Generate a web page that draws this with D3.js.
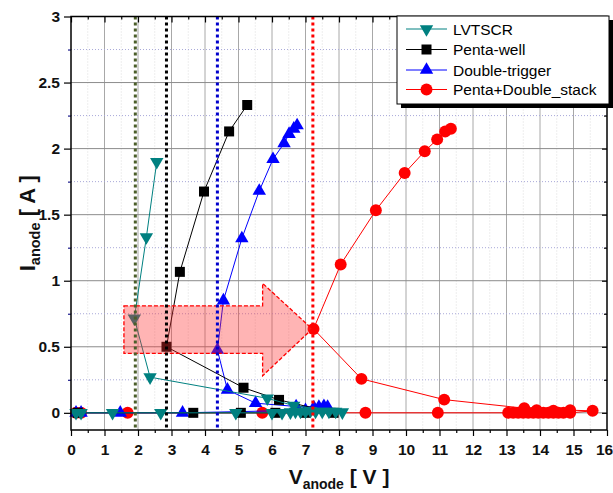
<!DOCTYPE html>
<html lang="en">
<head>
<meta charset="UTF-8">
<script src="https://cdn.jsdelivr.net/npm/d3@7"></script>
<style>
  body { margin: 0; background: #fff; }
  text { font-family: "Liberation Sans", Arial, sans-serif; }
</style>
</head>
<body>
<script>
// TLP data: anode voltage [V] and anode current [A]
var lvtscrV = [0.15, 0.3, 1.24, 2.68, 4.92, 6.0, 6.3, 6.55, 6.7, 6.85, 7.0, 7.15, 7.3, 7.5, 7.7, 7.9, 8.1, 6.65, 5.86, 2.36, 1.89, 2.25, 2.56];
var lvtscrI = [0, 0, 0, 0, 0, 0, 0, 0.005, 0.01, 0.01, 0.01, 0.015, 0.01, 0.01, 0.01, 0.01, 0.005, 0.055, 0.11, 0.27, 0.715, 1.33, 1.90];

var pentaV = [0.2, 3.65, 5.07, 6.1, 7.0, 7.84, 6.21, 5.15, 2.85, 3.25, 3.97, 4.72, 5.26];
var pentaI = [0, 0, 0, 0, 0, 0, 0.098, 0.19, 0.50, 1.067, 1.675, 2.13, 2.33];

var doubleV = [0.15, 0.3, 1.47, 3.33, 7.0, 7.25, 7.4, 7.55, 7.66, 6.72, 5.51, 4.67, 4.37, 4.55, 5.10, 5.62, 6.03, 6.36, 6.51, 6.65, 6.75];
var doubleI = [0, 0, 0, 0, 0.02, 0.04, 0.045, 0.05, 0.045, 0.048, 0.073, 0.174, 0.476, 0.85, 1.32, 1.68, 1.92, 2.04, 2.11, 2.15, 2.175];

var stackV = [0.15, 0.3, 1.69, 5.71, 8.79, 10.95, 13.05, 13.2, 13.35, 13.5, 13.65, 13.8, 13.95, 14.1, 14.25, 14.4, 14.55, 14.7, 14.9, 15.57, 14.9, 14.4, 13.9, 13.53, 11.14, 8.67, 7.24, 8.05, 9.10, 9.96, 10.56, 10.93, 11.17, 11.34];
var stackI = [0, 0, 0, 0, 0, 0, 0, 0, 0, 0, 0, 0, 0, 0, 0, 0, 0, 0, 0, 0.015, 0.02, 0.015, 0.02, 0.035, 0.10, 0.257, 0.635, 1.123, 1.533, 1.815, 1.98, 2.07, 2.13, 2.15];

var seriesNames = ["LVTSCR", "Penta-well", "Double-trigger", "Penta+Double_stack"];
var seriesColors = ["#008080", "#000000", "#0000ff", "#ff0000"];

// holding-voltage markers
var markerV = [1.92, 2.85, 4.37, 7.22];
var markerColors = ["#4b5e2a", "#000000", "#0000cc", "#ff0000"];

// annotation arrow (data coords)
var arrowV = [1.58, 5.72, 5.72, 7.2, 5.72, 5.72, 1.58];
var arrowI = [0.81, 0.81, 0.98, 0.635, 0.28, 0.45, 0.45];

var xTicks = d3.range(0, 17, 1);
var yTicks = [0, 0.5, 1, 1.5, 2, 2.5, 3];

var w = 613, h = 493;
var padL = 71, padR = 607, padT = 16.5, padB = 430;

var svg = d3.select("body").append("svg")
    .attr("width", w)
    .attr("height", h);

var xScale = d3.scaleLinear().domain([0, 16]).range([padL, padR]);
var yScale = d3.scaleLinear().domain([-0.13, 3]).range([padB, padT]);

// grid
var grid = svg.append("g");
grid.selectAll(".gx").data(d3.range(1, 16, 1)).enter().append("line")
    .attr("x1", function (d) { return xScale(d); })
    .attr("x2", function (d) { return xScale(d); })
    .attr("y1", padT).attr("y2", padB)
    .attr("stroke", "#a8a8a8").attr("stroke-width", 1);
grid.selectAll(".gxm").data(d3.range(0.5, 16, 1)).enter().append("line")
    .attr("x1", function (d) { return xScale(d); })
    .attr("x2", function (d) { return xScale(d); })
    .attr("y1", padT).attr("y2", padB)
    .attr("stroke", "#dcdcdc").attr("stroke-width", 1).attr("stroke-dasharray", "1,2");
grid.selectAll(".gy").data([0, 0.5, 1, 1.5, 2, 2.5]).enter().append("line")
    .attr("x1", padL).attr("x2", padR)
    .attr("y1", function (d) { return yScale(d); })
    .attr("y2", function (d) { return yScale(d); })
    .attr("stroke", "#8c8c8c").attr("stroke-width", 1);
grid.selectAll(".gym").data([0.25, 0.75, 1.25, 1.75, 2.25, 2.75]).enter().append("line")
    .attr("x1", padL).attr("x2", padR)
    .attr("y1", function (d) { return yScale(d); })
    .attr("y2", function (d) { return yScale(d); })
    .attr("stroke", "#a9a9d9").attr("stroke-width", 1).attr("stroke-dasharray", "1,2");

// series
var allV = [lvtscrV, pentaV, doubleV, stackV];
var allI = [lvtscrI, pentaI, doubleI, stackI];
var shapes = [d3.symbolTriangle, d3.symbolSquare, d3.symbolTriangle, d3.symbolCircle];
var sizes = [78, 100, 78, 112];
var rotations = [180, 0, 0, 0];

var line = d3.line()
    .x(function (d) { return xScale(d[0]); })
    .y(function (d) { return yScale(d[1]); });

var plot = svg.append("g");
[3, 2, 1, 0].forEach(function (k) {
    var pts = allV[k].map(function (v, i) { return [v, allI[k][i]]; });
    plot.append("path")
        .datum(pts)
        .attr("d", line)
        .attr("fill", "none")
        .attr("stroke", seriesColors[k])
        .attr("stroke-width", 1);
    plot.selectAll(".m" + k).data(pts).enter().append("path")
        .attr("d", d3.symbol().type(shapes[k]).size(sizes[k]))
        .attr("transform", function (d) {
            return "translate(" + xScale(d[0]) + "," + yScale(d[1]) + ") rotate(" + rotations[k] + ")";
        })
        .attr("fill", seriesColors[k]);
});

// arrow annotation
var arrowPts = arrowV.map(function (v, i) { return [xScale(v), yScale(arrowI[i])]; });
svg.append("path")
    .attr("d", "M" + arrowPts.join("L") + "Z")
    .attr("fill", "#ff3030")
    .attr("fill-opacity", 0.36)
    .attr("stroke", "#ff0000")
    .attr("stroke-width", 1.3)
    .attr("stroke-dasharray", "4,2");

// dotted vertical lines
svg.selectAll(".vm").data(markerV).enter().append("line")
    .attr("x1", function (d) { return xScale(d); })
    .attr("x2", function (d) { return xScale(d); })
    .attr("y1", padT).attr("y2", padB)
    .attr("stroke", function (d, i) { return markerColors[i]; })
    .attr("stroke-width", 3)
    .attr("stroke-dasharray", "3,3");

// axes
var xAxis = svg.append("g").attr("transform", "translate(0," + padB + ")")
    .call(d3.axisBottom(xScale).tickValues(xTicks).tickSize(6).tickFormat(d3.format("d")));
svg.append("g").attr("transform", "translate(0," + padB + ")")
    .call(d3.axisBottom(xScale).tickValues(d3.range(0.5, 16, 1)).tickSize(3).tickFormat(""));
svg.append("g").attr("transform", "translate(0," + padT + ")")
    .call(d3.axisBottom(xScale).tickValues(xTicks).tickSize(6).tickFormat(""));
svg.append("g").attr("transform", "translate(0," + padT + ")")
    .call(d3.axisBottom(xScale).tickValues(d3.range(0.5, 16, 1)).tickSize(3).tickFormat(""));

var yAxis = svg.append("g").attr("transform", "translate(" + padL + ",0)")
    .call(d3.axisLeft(yScale).tickValues(yTicks).tickSize(7).tickFormat(d3.format("")));
var yMinor = svg.append("g").attr("transform", "translate(" + padL + ",0)")
    .call(d3.axisLeft(yScale).tickValues([0.25, 0.75, 1.25, 1.75, 2.25, 2.75]).tickSize(3).tickFormat(""));
yMinor.selectAll("line").attr("stroke", "#1a1a8c");
svg.append("g").attr("transform", "translate(" + padR + ",0)")
    .call(d3.axisLeft(yScale).tickValues(yTicks).tickSize(5).tickFormat(""));
svg.append("g").attr("transform", "translate(" + padR + ",0)")
    .call(d3.axisLeft(yScale).tickValues([0.25, 0.75, 1.25, 1.75, 2.25, 2.75]).tickSize(3).tickFormat(""));

svg.selectAll(".domain").remove();
svg.selectAll(".tick line").attr("stroke-width", 1.2);
xAxis.selectAll("text").attr("font-size", "15.5px").attr("font-weight", "bold").attr("fill", "#111").attr("dy", "1.05em");
xAxis.selectAll("text").filter(function (d) { return d === 16; }).attr("dx", -3);
yAxis.selectAll("text").attr("font-size", "15.5px").attr("font-weight", "bold").attr("fill", "#111").attr("x", -11);

svg.append("rect")
    .attr("x", padL).attr("y", padT)
    .attr("width", padR - padL).attr("height", padB - padT)
    .attr("fill", "none").attr("stroke", "#000").attr("stroke-width", 1.5);

// axis titles
var xt = svg.append("text")
    .attr("x", (padL + padR) / 2).attr("y", 484)
    .attr("text-anchor", "middle").attr("font-weight", "bold").attr("fill", "#111");
xt.append("tspan").attr("font-size", "21px").text("V");
xt.append("tspan").attr("font-size", "14px").attr("dy", 5).text("anode");
xt.append("tspan").attr("font-size", "21px").attr("dy", -5).text(" [ V ]");

var yt = svg.append("text")
    .attr("transform", "translate(35," + ((padT + padB) / 2) + ") rotate(-90)")
    .attr("text-anchor", "middle").attr("font-weight", "bold").attr("fill", "#111");
yt.append("tspan").attr("font-size", "22px").text("I");
yt.append("tspan").attr("font-size", "14.5px").attr("dy", 5).text("anode");
yt.append("tspan").attr("font-size", "22px").attr("dy", -5).text(" [ A ]");

// legend
var lg = svg.append("g");
lg.append("rect").attr("x", 401).attr("y", 20).attr("width", 212).attr("height", 88).attr("fill", "#000");
lg.append("rect").attr("x", 397).attr("y", 16).attr("width", 212).attr("height", 88)
    .attr("fill", "#fff").attr("stroke", "#000").attr("stroke-width", 1);
var legY = [29, 49.5, 70, 89.5];
seriesNames.forEach(function (name, k) {
    lg.append("line").attr("x1", 406).attr("x2", 447).attr("y1", legY[k]).attr("y2", legY[k])
        .attr("stroke", seriesColors[k]).attr("stroke-width", 1);
    lg.append("path")
        .attr("d", d3.symbol().type(shapes[k]).size(sizes[k]))
        .attr("transform", "translate(426.5," + legY[k] + ") rotate(" + rotations[k] + ")")
        .attr("fill", seriesColors[k]);
    lg.append("text").attr("x", 453).attr("y", legY[k] + 5.5)
        .attr("font-size", "15.5px").attr("fill", "#000").text(name);
});
</script>
</body>
</html>
